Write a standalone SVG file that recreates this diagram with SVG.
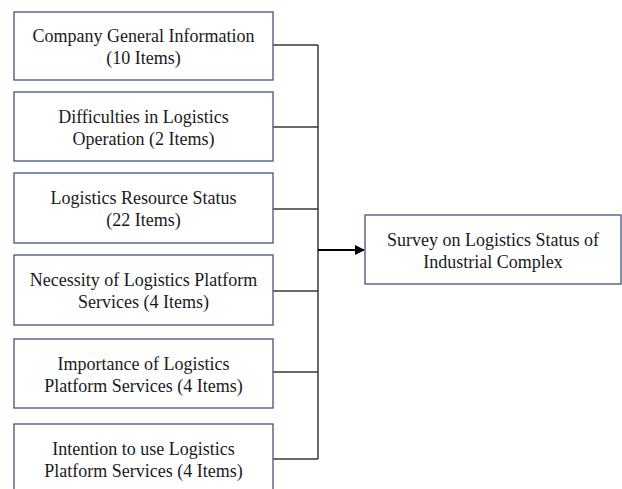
<svg xmlns="http://www.w3.org/2000/svg" width="622" height="489" viewBox="0 0 622 489">
<style>
.box{fill:#fff;stroke:#41557a;stroke-width:1.3}
.c{fill:none;stroke:#3a3a3a;stroke-width:1.5}
</style>
<defs>
<marker id="ah" markerWidth="10" markerHeight="10" refX="9" refY="5" orient="auto" markerUnits="userSpaceOnUse">
<path d="M0,0 L10,5 L0,10 Z" fill="#000"/>
</marker>
</defs>
<rect width="622" height="489" fill="#fff"/>
<g id="connectors">
<path class="c" d="M273,45 H318 M273,127 H318 M273,209 H318 M273,291 H318 M273,372 H318 M273,459 H318 M318,45 V459"/>
<path d="M318,250 H364" stroke="#000" stroke-width="2" fill="none" marker-end="url(#ah)"/>
</g>
<g font-family="Liberation Serif, Times New Roman, serif" font-size="18" fill="#1a1a1a" text-anchor="middle">
<g id="n1"><rect class="box" x="14" y="12" width="259" height="68"/>
<text x="143.5" y="42">Company General Information</text><text x="143.5" y="64">(10 Items)</text></g>
<g id="n2"><rect class="box" x="14" y="92" width="259" height="69"/>
<text x="143.5" y="122.5">Difficulties in Logistics</text><text x="143.5" y="144.5">Operation (2 Items)</text></g>
<g id="n3"><rect class="box" x="14" y="173" width="259" height="70"/>
<text x="143.5" y="204">Logistics Resource Status</text><text x="143.5" y="226">(22 Items)</text></g>
<g id="n4"><rect class="box" x="14" y="255" width="259" height="70"/>
<text x="143.5" y="286">Necessity of Logistics Platform</text><text x="143.5" y="308">Services (4 Items)</text></g>
<g id="n5"><rect class="box" x="14" y="339" width="259" height="69"/>
<text x="143.5" y="369.5">Importance of Logistics</text><text x="143.5" y="391.5">Platform Services (4 Items)</text></g>
<g id="n6"><rect class="box" x="14" y="424" width="259" height="70"/>
<text x="143.5" y="455">Intention to use Logistics</text><text x="143.5" y="477">Platform Services (4 Items)</text></g>
<g id="target"><rect class="box" x="365" y="215" width="256" height="69"/>
<text x="493" y="245.5">Survey on Logistics Status of</text><text x="493" y="267.5">Industrial Complex</text></g>
</g>
</svg>
